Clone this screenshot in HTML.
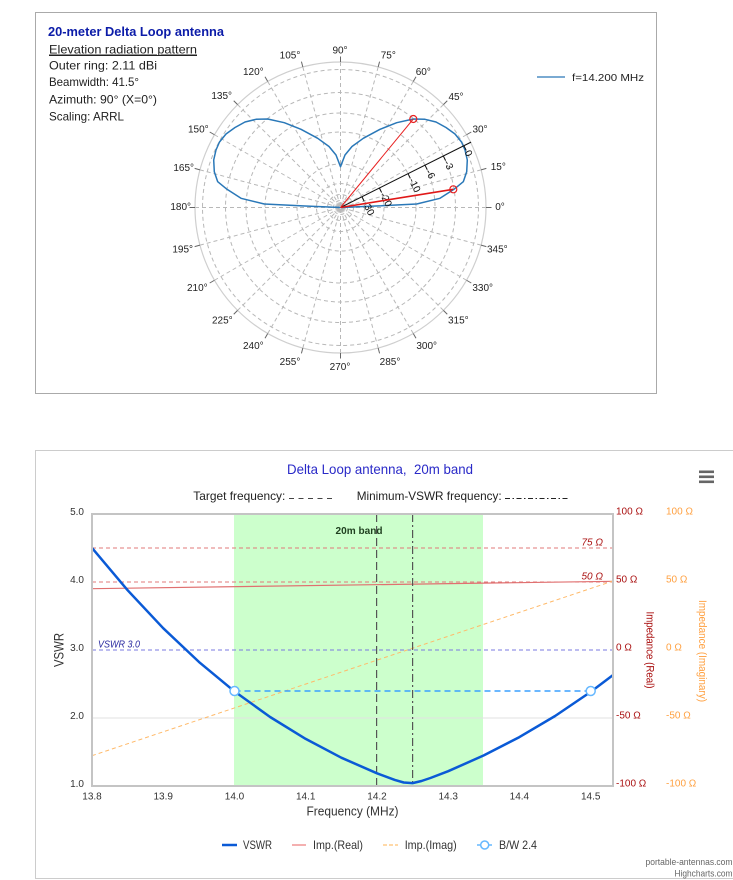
<!DOCTYPE html>
<html><head><meta charset="utf-8"><style>
html,body{margin:0;padding:0;background:#fff;width:733px;height:880px;overflow:hidden}
svg{display:block}
text{font-family:"Liberation Sans",sans-serif}
</style></head><body>
<svg width="733" height="880" viewBox="0 0 733 880" xmlns="http://www.w3.org/2000/svg">
<defs><clipPath id="pc"><rect x="92" y="514" width="521" height="272"/></clipPath></defs>
<!-- top box -->
<rect x="35.5" y="12.5" width="621" height="381" fill="none" stroke="#aaa" stroke-width="1"/>
<text x="48" y="36" font-size="13" font-weight="bold" fill="#0b1ba8" textLength="176" lengthAdjust="spacingAndGlyphs">20-meter Delta Loop antenna</text>
<text x="49" y="53.5" font-size="12" fill="#222" textLength="148" lengthAdjust="spacingAndGlyphs" text-decoration="underline">Elevation radiation pattern</text>
<line x1="49" y1="55.5" x2="197" y2="55.5" stroke="#222" stroke-width="1"/>
<text x="49" y="69.5" font-size="12" fill="#222" textLength="108" lengthAdjust="spacingAndGlyphs">Outer ring: 2.11 dBi</text>
<text x="49" y="86" font-size="12" fill="#222" textLength="90" lengthAdjust="spacingAndGlyphs">Beamwidth: 41.5°</text>
<text x="49" y="103.5" font-size="12" fill="#222" textLength="108" lengthAdjust="spacingAndGlyphs">Azimuth: 90° (X=0°)</text>
<text x="49" y="120.5" font-size="12" fill="#222" textLength="75" lengthAdjust="spacingAndGlyphs">Scaling: ARRL</text>

<!-- polar grid -->
<g transform="translate(340.5,207.5)" fill="none">
<g stroke="#b8b8b8" stroke-width="1" stroke-dasharray="4,3">
<circle r="138"/><circle r="115"/><circle r="94.5"/><circle r="75.5"/><circle r="43.5"/><circle r="24"/><circle r="13"/><circle r="7"/>
<line x1="-145.5" x2="145.5" y1="0" y2="0"/>
<line x1="-145.5" x2="145.5" y1="0" y2="0" transform="rotate(-15)"/>
<line x1="-145.5" x2="145.5" y1="0" y2="0" transform="rotate(-30)"/>
<line x1="-145.5" x2="145.5" y1="0" y2="0" transform="rotate(-45)"/>
<line x1="-145.5" x2="145.5" y1="0" y2="0" transform="rotate(-60)"/>
<line x1="-145.5" x2="145.5" y1="0" y2="0" transform="rotate(-75)"/>
<line x1="-145.5" x2="145.5" y1="0" y2="0" transform="rotate(-90)"/>
<line x1="-145.5" x2="145.5" y1="0" y2="0" transform="rotate(-105)"/>
<line x1="-145.5" x2="145.5" y1="0" y2="0" transform="rotate(-120)"/>
<line x1="-145.5" x2="145.5" y1="0" y2="0" transform="rotate(-135)"/>
<line x1="-145.5" x2="145.5" y1="0" y2="0" transform="rotate(-150)"/>
<line x1="-145.5" x2="145.5" y1="0" y2="0" transform="rotate(-165)"/>
</g>
<circle r="145.5" stroke="#cfcfcf" stroke-width="1.2"/>
<g stroke="#666" stroke-width="1">
<line x1="145.5" x2="151" transform="rotate(0)"/>
<line x1="145.5" x2="151" transform="rotate(-15)"/>
<line x1="145.5" x2="151" transform="rotate(-30)"/>
<line x1="145.5" x2="151" transform="rotate(-45)"/>
<line x1="145.5" x2="151" transform="rotate(-60)"/>
<line x1="145.5" x2="151" transform="rotate(-75)"/>
<line x1="145.5" x2="151" transform="rotate(-90)"/>
<line x1="145.5" x2="151" transform="rotate(-105)"/>
<line x1="145.5" x2="151" transform="rotate(-120)"/>
<line x1="145.5" x2="151" transform="rotate(-135)"/>
<line x1="145.5" x2="151" transform="rotate(-150)"/>
<line x1="145.5" x2="151" transform="rotate(-165)"/>
<line x1="145.5" x2="151" transform="rotate(-180)"/>
<line x1="145.5" x2="151" transform="rotate(-195)"/>
<line x1="145.5" x2="151" transform="rotate(-210)"/>
<line x1="145.5" x2="151" transform="rotate(-225)"/>
<line x1="145.5" x2="151" transform="rotate(-240)"/>
<line x1="145.5" x2="151" transform="rotate(-255)"/>
<line x1="145.5" x2="151" transform="rotate(-270)"/>
<line x1="145.5" x2="151" transform="rotate(-285)"/>
<line x1="145.5" x2="151" transform="rotate(-300)"/>
<line x1="145.5" x2="151" transform="rotate(-315)"/>
<line x1="145.5" x2="151" transform="rotate(-330)"/>
<line x1="145.5" x2="151" transform="rotate(-345)"/>
</g>
</g>
<!-- angle labels -->
<g font-size="10" fill="#222" text-anchor="middle" dominant-baseline="central">
<text x="500" y="207.7">0°</text>
<text x="498.3" y="167.3">15°</text>
<text x="480" y="130">30°</text>
<text x="456" y="97.7">45°</text>
<text x="423.3" y="72.7">60°</text>
<text x="388.3" y="56">75°</text>
<text x="340" y="51">90°</text>
<text x="290" y="56">105°</text>
<text x="253.3" y="72.7">120°</text>
<text x="221.7" y="96.7">135°</text>
<text x="198.3" y="130">150°</text>
<text x="183.7" y="168.3">165°</text>
<text x="180.7" y="207.7">180°</text>
<text x="182.7" y="250">195°</text>
<text x="197.3" y="288.3">210°</text>
<text x="222.3" y="321">225°</text>
<text x="253.3" y="346.7">240°</text>
<text x="290" y="362.7">255°</text>
<text x="340" y="367.3">270°</text>
<text x="390" y="362.7">285°</text>
<text x="426.7" y="346.7">300°</text>
<text x="458.3" y="321">315°</text>
<text x="482.7" y="288.3">330°</text>
<text x="497.3" y="250">345°</text>
</g>
<!-- pattern -->
<polyline fill="none" stroke="#2a78b8" stroke-width="1.5" stroke-linejoin="round" points="340.5,207.5 376,206 416.7,204 440,198.3 454,189.3 463.3,181.7 466.7,171.7 467.3,160 465,150 461.5,142 455,134 446,127.5 436,122 425,119.3 413.3,119 396.7,122.7 380,129.3 363.3,138.3 352,146.5 345,155 340.5,166.7 336,155 329,146.5 317.7,138.3 301,129.3 284.3,122.7 267.7,119 256,119.3 245,122 235,127.5 226,134 219.5,142 216,150 213.7,160 214.3,171.7 217.7,181.7 227,189.3 241,198.3 264.3,204 305,206 340.5,207.5"/>
<!-- scale line -->
<g transform="translate(340.5,207.5) rotate(-26.6)">
<line x1="0" y1="0" x2="146" y2="0" stroke="#111" stroke-width="1"/>
<g stroke="#111" stroke-width="1">
<line x1="138" y1="0" x2="138" y2="5"/><line x1="115" y1="0" x2="115" y2="5"/><line x1="94.5" y1="0" x2="94.5" y2="5"/><line x1="75.5" y1="0" x2="75.5" y2="5"/><line x1="43.5" y1="0" x2="43.5" y2="5"/><line x1="24" y1="0" x2="24" y2="5"/>
</g>
<g font-size="10" fill="#111" dominant-baseline="central">
<text transform="translate(138,6) rotate(90)">0</text>
<text transform="translate(115,6) rotate(90)">-3</text>
<text transform="translate(94.5,6) rotate(90)">-6</text>
<text transform="translate(75.5,6) rotate(90)">-10</text>
<text transform="translate(43.5,6) rotate(90)">-20</text>
<text transform="translate(24,6) rotate(90)">-30</text>
</g>
</g>
<line x1="340.5" y1="207.5" x2="413.3" y2="119" stroke="#e82020" stroke-width="1"/>
<line x1="340.5" y1="207.5" x2="453.3" y2="189.3" stroke="#e01818" stroke-width="1.6"/>
<circle cx="413.3" cy="119" r="3.5" fill="none" stroke="#e82020" stroke-width="1.2"/>
<circle cx="453.3" cy="189.3" r="3.5" fill="none" stroke="#e82020" stroke-width="1.2"/>
<!-- legend top -->
<line x1="537" y1="77" x2="565" y2="77" stroke="#2a78b8" stroke-width="1.2"/>
<text x="572" y="81" font-size="10" fill="#222" textLength="72" lengthAdjust="spacingAndGlyphs">f=14.200 MHz</text>

<!-- bottom box -->
<rect x="35.5" y="450.5" width="700" height="428" fill="none" stroke="#ccc" stroke-width="1"/>
<text x="380" y="474" font-size="14" fill="#2a2ac8" text-anchor="middle" textLength="186" lengthAdjust="spacingAndGlyphs" style="white-space:pre">Delta Loop antenna,  20m band</text>
<g fill="#666"><rect x="699" y="470.5" width="15" height="2.6"/><rect x="699" y="475.5" width="15" height="2.6"/><rect x="699" y="480.5" width="15" height="2.6"/></g>
<text x="193.3" y="500" font-size="12" fill="#222" textLength="92" lengthAdjust="spacingAndGlyphs">Target frequency:</text>
<line x1="289" y1="498.5" x2="332" y2="498.5" stroke="#444" stroke-width="1" stroke-dasharray="5,4.5"/>
<text x="356.7" y="500" font-size="12" fill="#222" textLength="145" lengthAdjust="spacingAndGlyphs">Minimum-VSWR frequency:</text>
<line x1="505" y1="498.5" x2="569" y2="498.5" stroke="#222" stroke-width="1" stroke-dasharray="5,2.5,1.5,2.5"/>

<!-- plot area -->
<rect x="234" y="514" width="249" height="272" fill="#ccffcc"/>
<line x1="92" y1="718" x2="613" y2="718" stroke="#e2e2e2" stroke-width="1"/>
<g clip-path="url(#pc)">
<line x1="92" y1="548" x2="613" y2="548" stroke="#e07a7a" stroke-width="1" stroke-dasharray="4,3"/>
<line x1="92" y1="582" x2="613" y2="582" stroke="#e07a7a" stroke-width="1" stroke-dasharray="4,3"/>
<line x1="92" y1="650" x2="613" y2="650" stroke="#7a7ae0" stroke-width="1" stroke-dasharray="4,3"/>
<line x1="92" y1="588.7" x2="613" y2="581.3" stroke="#e07070" stroke-width="1.2"/>
<line x1="92" y1="755.7" x2="613" y2="581" stroke="#ffba6a" stroke-width="1" stroke-dasharray="4,3"/>
<line x1="376.6" y1="514" x2="376.6" y2="786" stroke="#555" stroke-width="1.2" stroke-dasharray="8,4"/>
<line x1="412.6" y1="514" x2="412.6" y2="786" stroke="#555" stroke-width="1.2" stroke-dasharray="8,3,2,3"/>
<line x1="234.5" y1="691" x2="590.7" y2="691" stroke="#3aa0ff" stroke-width="1.5" stroke-dasharray="6,4"/>
<polyline fill="none" stroke="#0a5ad6" stroke-width="2.5" stroke-linejoin="round" points="92,547.9 127.6,590.2 163.2,628.2 198.9,661.9 234.5,691.4 270.1,717 305.7,738.9 341.3,757.7 377,773.3 394.8,779.9 403.7,782.5 412.6,783.1 421.5,781 430.4,778 448.2,771.2 483.8,755.4 519.4,737.1 555.1,716 590.7,691.9 614,674.3"/>
</g>
<circle cx="234.5" cy="691" r="4.5" fill="#fff" stroke="#66b8ff" stroke-width="1.5"/>
<circle cx="590.7" cy="691" r="4.5" fill="#fff" stroke="#66b8ff" stroke-width="1.5"/>
<rect x="92" y="514" width="521" height="272" fill="none" stroke="#c4c4c4" stroke-width="2"/>
<text x="359" y="534" font-size="10.5" font-weight="bold" fill="#1f3f1f" text-anchor="middle" textLength="47" lengthAdjust="spacingAndGlyphs">20m band</text>
<text x="603" y="545.5" font-size="10" font-style="italic" fill="#aa1111" text-anchor="end">75 Ω</text>
<text x="603" y="579.5" font-size="10" font-style="italic" fill="#aa1111" text-anchor="end">50 Ω</text>
<text x="98" y="647.5" font-size="10" font-style="italic" fill="#2a2aa0" textLength="42" lengthAdjust="spacingAndGlyphs">VSWR 3.0</text>

<!-- left axis -->
<g font-size="10" fill="#333" text-anchor="end">
<text x="84" y="515">5.0</text><text x="84" y="583">4.0</text><text x="84" y="651">3.0</text><text x="84" y="719">2.0</text><text x="84" y="787">1.0</text>
</g>
<text transform="translate(63.5,650) rotate(-90)" font-size="14" fill="#333" text-anchor="middle" textLength="34" lengthAdjust="spacingAndGlyphs">VSWR</text>
<!-- right axes -->
<g font-size="10" fill="#aa1111">
<text x="616" y="514.5">100 Ω</text><text x="616" y="582.5">50 Ω</text><text x="616" y="650.5">0 Ω</text><text x="616" y="718.5">-50 Ω</text><text x="616" y="786.5">-100 Ω</text>
</g>
<g font-size="10" fill="#ffa040">
<text x="666" y="514.5">100 Ω</text><text x="666" y="582.5">50 Ω</text><text x="666" y="650.5">0 Ω</text><text x="666" y="718.5">-50 Ω</text><text x="666" y="786.5">-100 Ω</text>
</g>
<text transform="translate(646.5,650) rotate(90)" font-size="11" fill="#aa1111" text-anchor="middle" textLength="77" lengthAdjust="spacingAndGlyphs">Impedance (Real)</text>
<text transform="translate(699,651) rotate(90)" font-size="11" fill="#ffa040" text-anchor="middle" textLength="102" lengthAdjust="spacingAndGlyphs">Impedance (Imaginary)</text>
<!-- x axis -->
<g font-size="10" fill="#333" text-anchor="middle">
<text x="92" y="799.5">13.8</text><text x="163.2" y="799.5">13.9</text><text x="234.5" y="799.5">14.0</text><text x="305.7" y="799.5">14.1</text><text x="377" y="799.5">14.2</text><text x="448.2" y="799.5">14.3</text><text x="519.4" y="799.5">14.4</text><text x="590.7" y="799.5">14.5</text>
</g>
<text x="352.5" y="815.5" font-size="13" fill="#333" text-anchor="middle" textLength="92" lengthAdjust="spacingAndGlyphs">Frequency (MHz)</text>
<!-- legend -->
<line x1="222" y1="845" x2="237" y2="845" stroke="#0a5ad6" stroke-width="2.5"/>
<text x="243" y="849" font-size="12" fill="#333" textLength="29" lengthAdjust="spacingAndGlyphs">VSWR</text>
<line x1="292" y1="845" x2="306" y2="845" stroke="#f4b0b0" stroke-width="2"/>
<text x="313" y="849" font-size="12" fill="#333" textLength="50" lengthAdjust="spacingAndGlyphs">Imp.(Real)</text>
<line x1="383" y1="845" x2="398" y2="845" stroke="#ffd9a8" stroke-width="2" stroke-dasharray="4,2"/>
<text x="404.7" y="849" font-size="12" fill="#333" textLength="52" lengthAdjust="spacingAndGlyphs">Imp.(Imag)</text>
<line x1="477" y1="845" x2="492" y2="845" stroke="#66b8ff" stroke-width="1.5"/>
<circle cx="484.7" cy="845" r="4" fill="#fff" stroke="#66b8ff" stroke-width="1.5"/>
<text x="499" y="849" font-size="12" fill="#333" textLength="38" lengthAdjust="spacingAndGlyphs">B/W 2.4</text>
<!-- credits -->
<text x="732.5" y="865" font-size="9.5" fill="#666" text-anchor="end" textLength="87" lengthAdjust="spacingAndGlyphs">portable-antennas.com</text>
<text x="732.5" y="876.5" font-size="9.5" fill="#666" text-anchor="end" textLength="58" lengthAdjust="spacingAndGlyphs">Highcharts.com</text>
</svg>
</body></html>
